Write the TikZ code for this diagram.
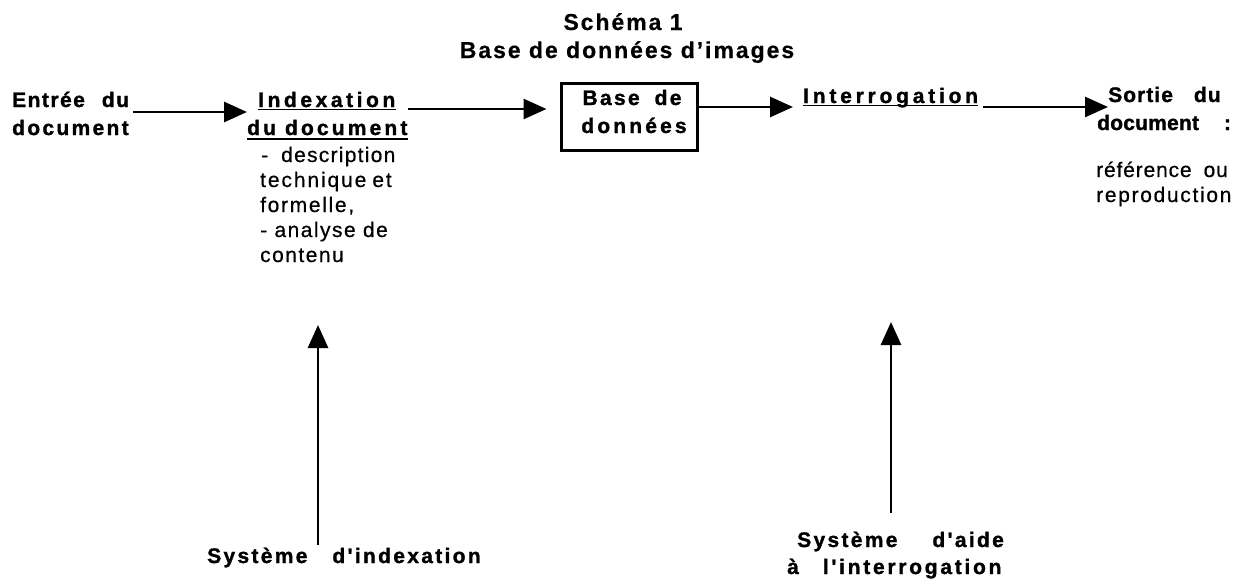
\documentclass[tikz,border=0pt]{standalone}
\usepackage{fontspec}
\setmainfont{Liberation Sans}
\newfontfamily\lib{Liberation Sans}
\usetikzlibrary{arrows.meta}
\begin{document}
\begin{tikzpicture}[x=1pt,y=-1pt,
  lbl/.style={inner sep=0pt, anchor=base west, font=\lib\bfseries\fontsize{21}{25}\selectfont\addfontfeature{LetterSpace=#1,FakeBold=1.3}},
  lbl/.default=12,
  txt/.style={inner sep=0pt, anchor=base west, font=\lib\fontsize{21}{25}\selectfont\addfontfeature{LetterSpace=#1,FakeBold=0.5}},
  txt/.default=8,
  ttl/.style={inner sep=0pt, anchor=base, font=\lib\bfseries\fontsize{23}{27}\selectfont\addfontfeature{LetterSpace=8.5,FakeBold=0.5}},
  arr/.style={line width=2.8pt, -{Triangle[length=23pt,width=20pt]}},
  ul/.style={line width=1.6pt},
  dbbox/.style={draw, line width=3pt, minimum width=136pt, minimum height=67pt, inner sep=0pt}]
\useasboundingbox (0,0) rectangle (1241,581);
% title
\node[ttl] (t1) at (623,30) {Schéma 1};
\node[ttl] (t2) at (627,58) {Base de données d’images};
% input
\node[lbl=7] (in1) at (12,107) {Entrée\hspace{17pt}du};
\node[lbl=11] (in2) at (12,135) {document};
% indexation
\node[lbl=17] (ix1) at (258,107) {Indexation};
\node[lbl=15] (ix2) at (247,135) {du\hspace{9pt}document};
\draw[ul] ([yshift=-2.5pt]ix1.base west) -- ([yshift=-2.5pt]ix1.base east);
\draw[ul] ([yshift=-4pt]ix2.base west) -- ([yshift=-4pt]ix2.base east);
\node[txt=6] (d1) at (261,162) {-\hspace{13pt}description};
\node[txt=9] (d2) at (260,187) {technique\hspace{6pt}et};
\node[txt=8] (d3) at (260,212) {formelle,};
\node[txt=7] (d4) at (260,237) {- analyse de};
\node[txt=7] (d5) at (260,262) {contenu};
% database
\node[dbbox] (db) at (629,116.5) {};
\node[lbl=11, anchor=base] (db1) at (632,105) {Base\hspace{15pt}de};
\node[lbl=15, anchor=base] (db2) at (634,133) {données};
% interrogation
\node[lbl=18] (q) at (803,103) {Interrogation};
\draw[ul] ([yshift=-2.5pt]q.base west) -- ([yshift=-2.5pt]q.base east);
% output
\node[lbl=5] (o1) at (1108,102) {Sortie\hspace{21pt}du};
\node[lbl=1] (o2) at (1097,130) {document\hspace{25pt}:};
\node[txt=4] (o3) at (1096,177) {référence\hspace{12pt}ou};
\node[txt=8] (o4) at (1096,202) {reproduction};
% systems
\node[lbl=11] (s1) at (207,563) {Système\hspace{25pt}d'indexation};
\node[lbl=11] (s2) at (797,547) {Système\hspace{35pt}d'aide};
\node[lbl=13] (s3) at (787,574) {à\hspace{24pt}l'interrogation};
% coordinates for free ends
\coordinate (a1s) at (133,112);
\coordinate (a2s) at (408,109);
\coordinate (a3e) at (793,107);
\coordinate (a4s) at (983,107);
\coordinate (a4e) at (1108,107);
\coordinate (u1s) at (318,545);
\coordinate (u1e) at (318,325);
\coordinate (u2s) at (891,513);
\coordinate (u2e) at (891,322);
% arrows
\draw[arr] (a1s) -- ([shift={(-11,5)}]ix1.base west);
\draw[arr] (a2s) -- ([shift={(-13,-7.5)}]db.west);
\draw[arr] ([shift={(0,-9.5)}]db.east) -- (a3e);
\draw[arr] (a4s) -- (a4e);
\draw[arr] (u1s) -- (u1e);
\draw[arr] (u2s) -- (u2e);
\end{tikzpicture}
\end{document}
